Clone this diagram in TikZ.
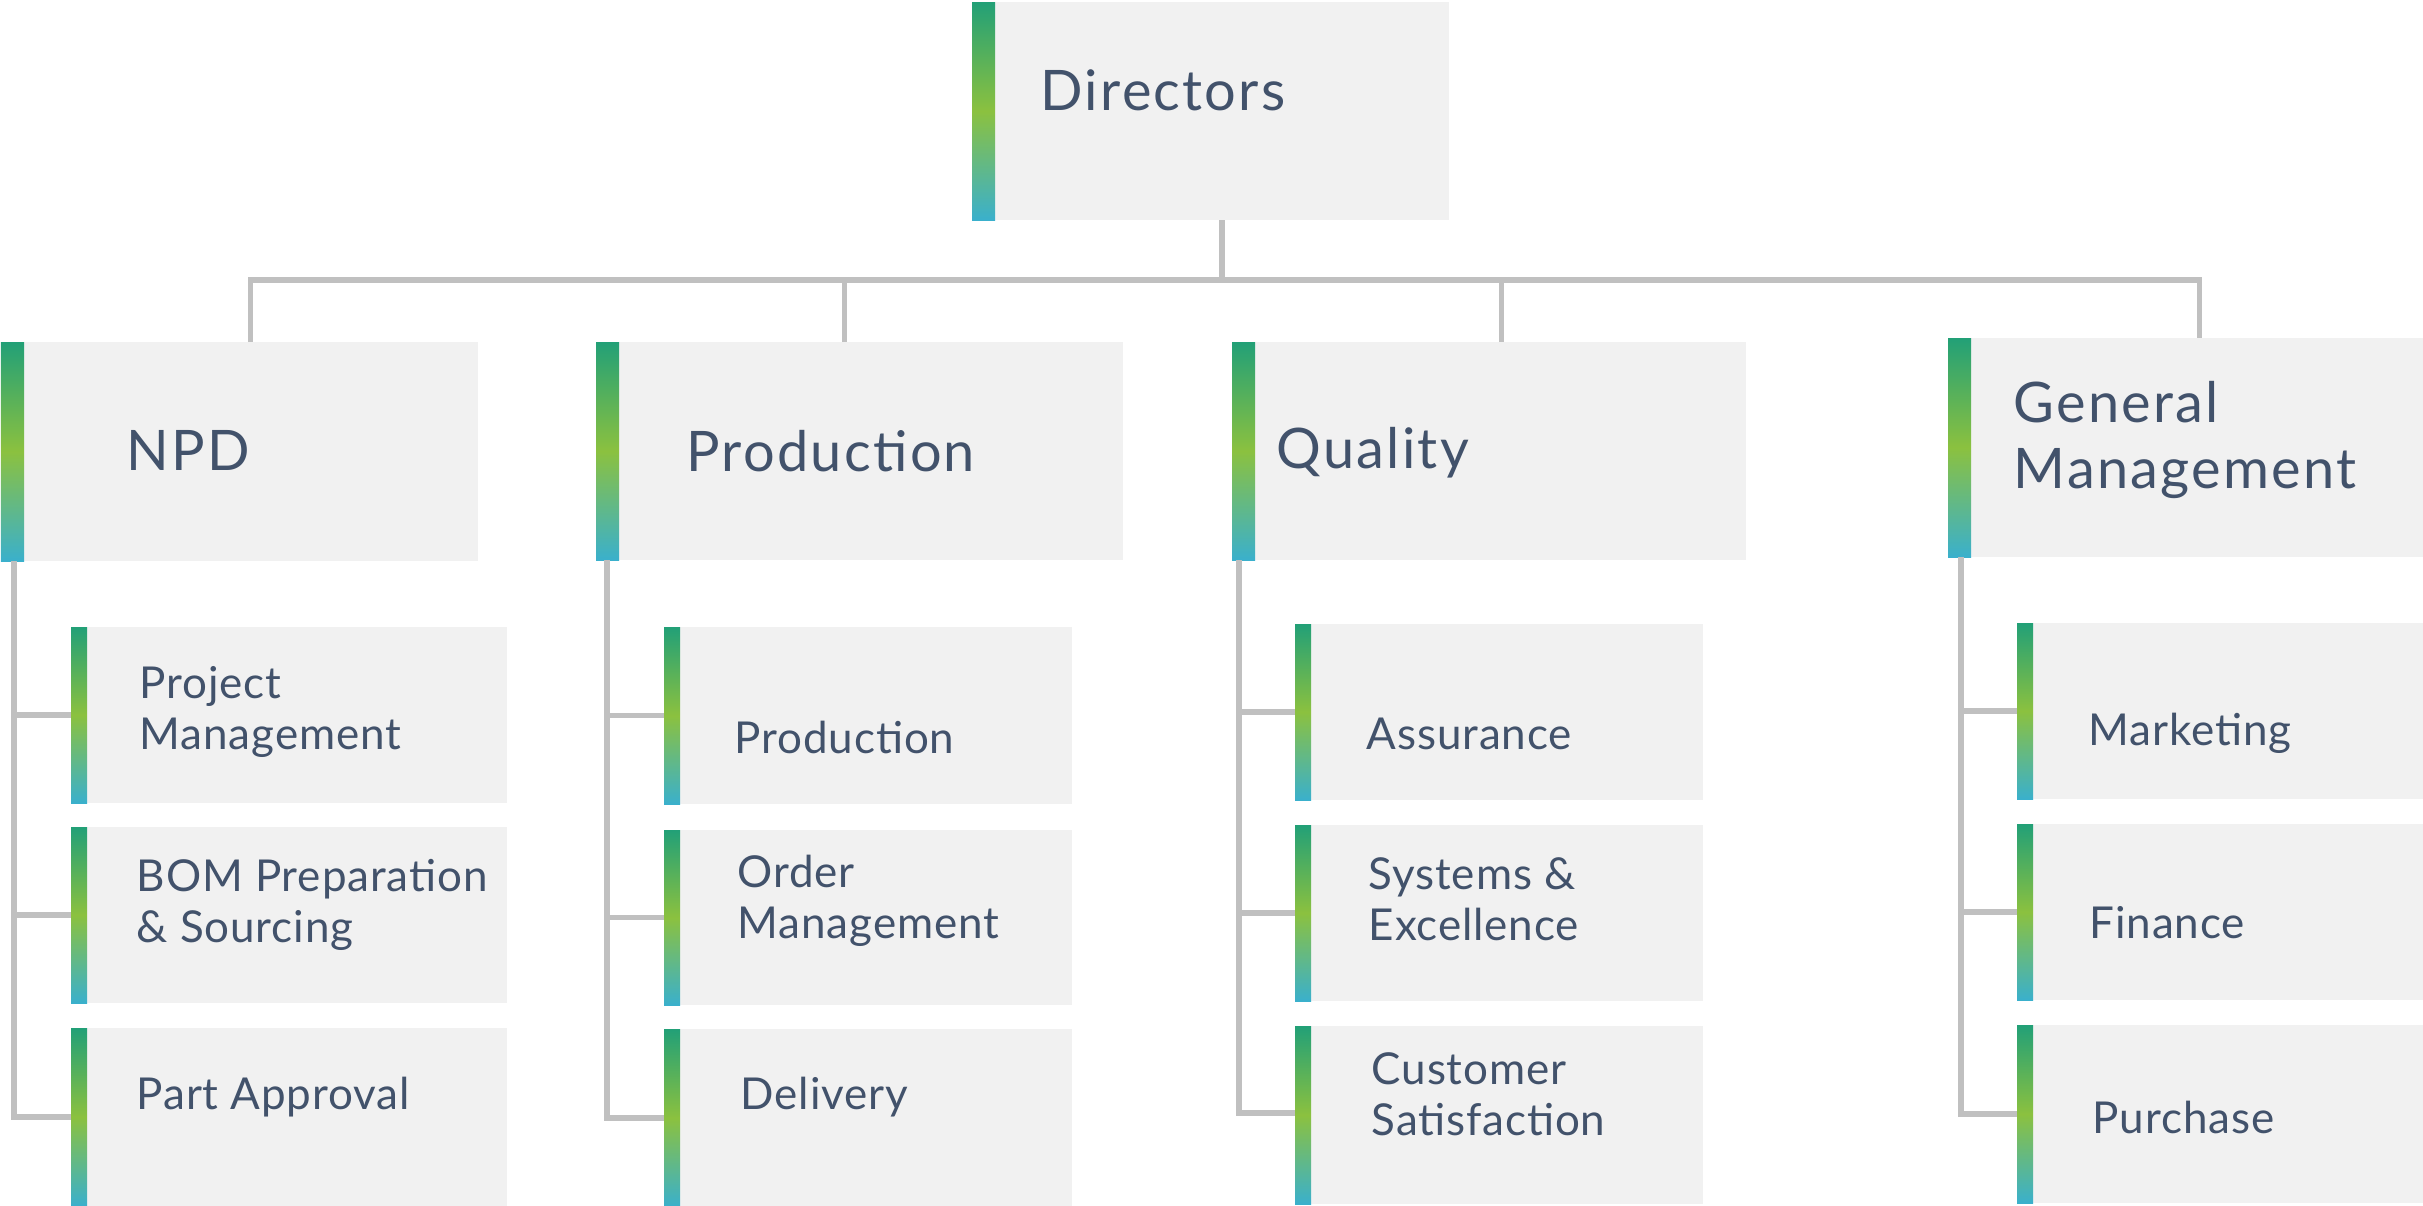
\documentclass[tikz,border=0pt]{standalone}
\usepackage{fontspec}
\setmainfont{Lato}
\newfontfamily\labfont[LetterSpace=4]{Lato}
\newfontfamily\sublabfont[LetterSpace=2]{Lato}
\usetikzlibrary{calc}
\definecolor{boxgray}{HTML}{F1F1F1}
\definecolor{lineg}{HTML}{C0C0C0}
\definecolor{txt}{HTML}{42526B}
\definecolor{gA}{HTML}{22A077}
\definecolor{gB}{HTML}{8BC13F}
\definecolor{gC}{HTML}{3AB0CC}
\begin{document}
\begin{tikzpicture}[x=0.01cm,y=-0.01cm,
  box/.style={fill=boxgray, draw=none, anchor=north west, inner sep=0, outer sep=0},
  bar/.style={top color=gA, bottom color=gC, middle color=gB, draw=none},
  conn/.style={draw=lineg, line width=1.5pt},
  big/.style={font=\labfont\fontsize{15.9}{18.8}\selectfont, text=txt, anchor=west, align=left, inner sep=0},
  small/.style={font=\sublabfont\fontsize{12.5}{14.5}\selectfont, text=txt, anchor=west, align=left, inner sep=0}]
\clip (0,0) rectangle (2423,1205);
\fill[white] (0,0) rectangle (2423,1205);

% top-level boxes
\node[box, minimum width=4.77cm, minimum height=2.18cm] (dir) at (972,2) {};
\node[box, minimum width=4.77cm, minimum height=2.19cm] (npd) at (1,342) {};
\node[box, minimum width=5.27cm, minimum height=2.18cm] (prod) at (596,342) {};
\node[box, minimum width=5.14cm, minimum height=2.18cm] (qual) at (1232,342) {};
\node[box, minimum width=4.80cm, minimum height=2.19cm] (gm) at (1948,338) {};

% child boxes
\node[box, minimum width=4.36cm, minimum height=1.76cm] (k11) at (71,627) {};
\node[box, minimum width=4.36cm, minimum height=1.76cm] (k12) at (71,827) {};
\node[box, minimum width=4.36cm, minimum height=1.78cm] (k13) at (71,1028) {};
\node[box, minimum width=4.08cm, minimum height=1.77cm] (k21) at (664,627) {};
\node[box, minimum width=4.08cm, minimum height=1.75cm] (k22) at (664,830) {};
\node[box, minimum width=4.08cm, minimum height=1.78cm] (k23) at (664,1029) {};
\node[box, minimum width=4.08cm, minimum height=1.76cm] (k31) at (1295,624) {};
\node[box, minimum width=4.08cm, minimum height=1.76cm] (k32) at (1295,825) {};
\node[box, minimum width=4.08cm, minimum height=1.78cm] (k33) at (1295,1026) {};
\node[box, minimum width=4.10cm, minimum height=1.76cm] (k41) at (2017,623) {};
\node[box, minimum width=4.10cm, minimum height=1.76cm] (k42) at (2017,824) {};
\node[box, minimum width=4.10cm, minimum height=1.78cm] (k43) at (2017,1025) {};

% gradient bars
\foreach \b in {dir,npd,prod,qual,gm}
  \shade[bar] (\b.north west) rectangle ($(\b.south west)+(23,0)$);
\foreach \b in {k11,k12,k13,k21,k22,k23,k31,k32,k33,k41,k42,k43}
  \shade[bar] (\b.north west) rectangle ($(\b.south west)+(16,0)$);

% upper connectors
\coordinate (bus) at (1222,280);
\coordinate (d1) at ($(npd.north)+(11,0)$);
\coordinate (d2) at ($(prod.north)+(-15,0)$);
\coordinate (d3) at ($(qual.north)+(12,0)$);
\coordinate (d4) at ($(gm.north)+(11,0)$);
\draw[conn] (dir.south -| bus) -- (bus);
\draw[conn] (d1) |- (bus) -| (d4);
\draw[conn] (d2) -- (d2 |- bus);
\draw[conn] (d3) -- (d3 |- bus);

% left trees
\coordinate (l1) at ($(npd.south west)+(13,0)$);
\coordinate (l2) at ($(prod.south west)+(11,0)$);
\coordinate (l3) at ($(qual.south west)+(7,0)$);
\coordinate (l4) at ($(gm.south west)+(13,0)$);
\draw[conn] (l1) |- (k13.west);
\draw[conn] (l1 |- k11.west) -- (k11.west);
\draw[conn] (l1 |- k12.west) -- (k12.west);
\draw[conn] (l2) |- (k23.west);
\draw[conn] (l2 |- k21.west) -- (k21.west);
\draw[conn] (l2 |- k22.west) -- (k22.west);
\draw[conn] (l3) |- ($(k33.west)+(0,-2)$);
\draw[conn] (l3 |- k31.west) -- (k31.west);
\draw[conn] (l3 |- k32.west) -- (k32.west);
\draw[conn] (l4) |- (k43.west);
\draw[conn] (l4 |- k41.west) -- (k41.west);
\draw[conn] (l4 |- k42.west) -- (k42.west);

% labels
\node[big] (tdir) at (1040,90) {Directors};
\node[big] (tnpd) at (126,450) {NPD};
\node[big] (tprod) at (686,451) {Production};
\node[big] (tqual) at (1276,453) {Quality};
\node[big] (tgm) at (2013,440) {General\\Management};

\node[small] (t11) at (139,712) {Project\\Management};
\node[small] (t12) at (136,905) {BOM Preparation\\\& Sourcing};
\node[small] (t13) at (136,1097) {Part Approval};
\node[small] (t21) at (734,737) {Production};
\node[small] (t22) at (737,901) {Order\\Management};
\node[small] (t23) at (740,1097) {Delivery};
\node[small] (t31) at (1366,734) {Assurance};
\node[small] (t32) at (1368,899) {Systems \&\\Excellence};
\node[small] (t33) at (1371,1094) {Customer\\Satisfaction};
\node[small] (t41) at (2088,733) {Marketing};
\node[small] (t42) at (2089,923) {Finance};
\node[small] (t43) at (2092,1117) {Purchase};
\end{tikzpicture}
\end{document}
